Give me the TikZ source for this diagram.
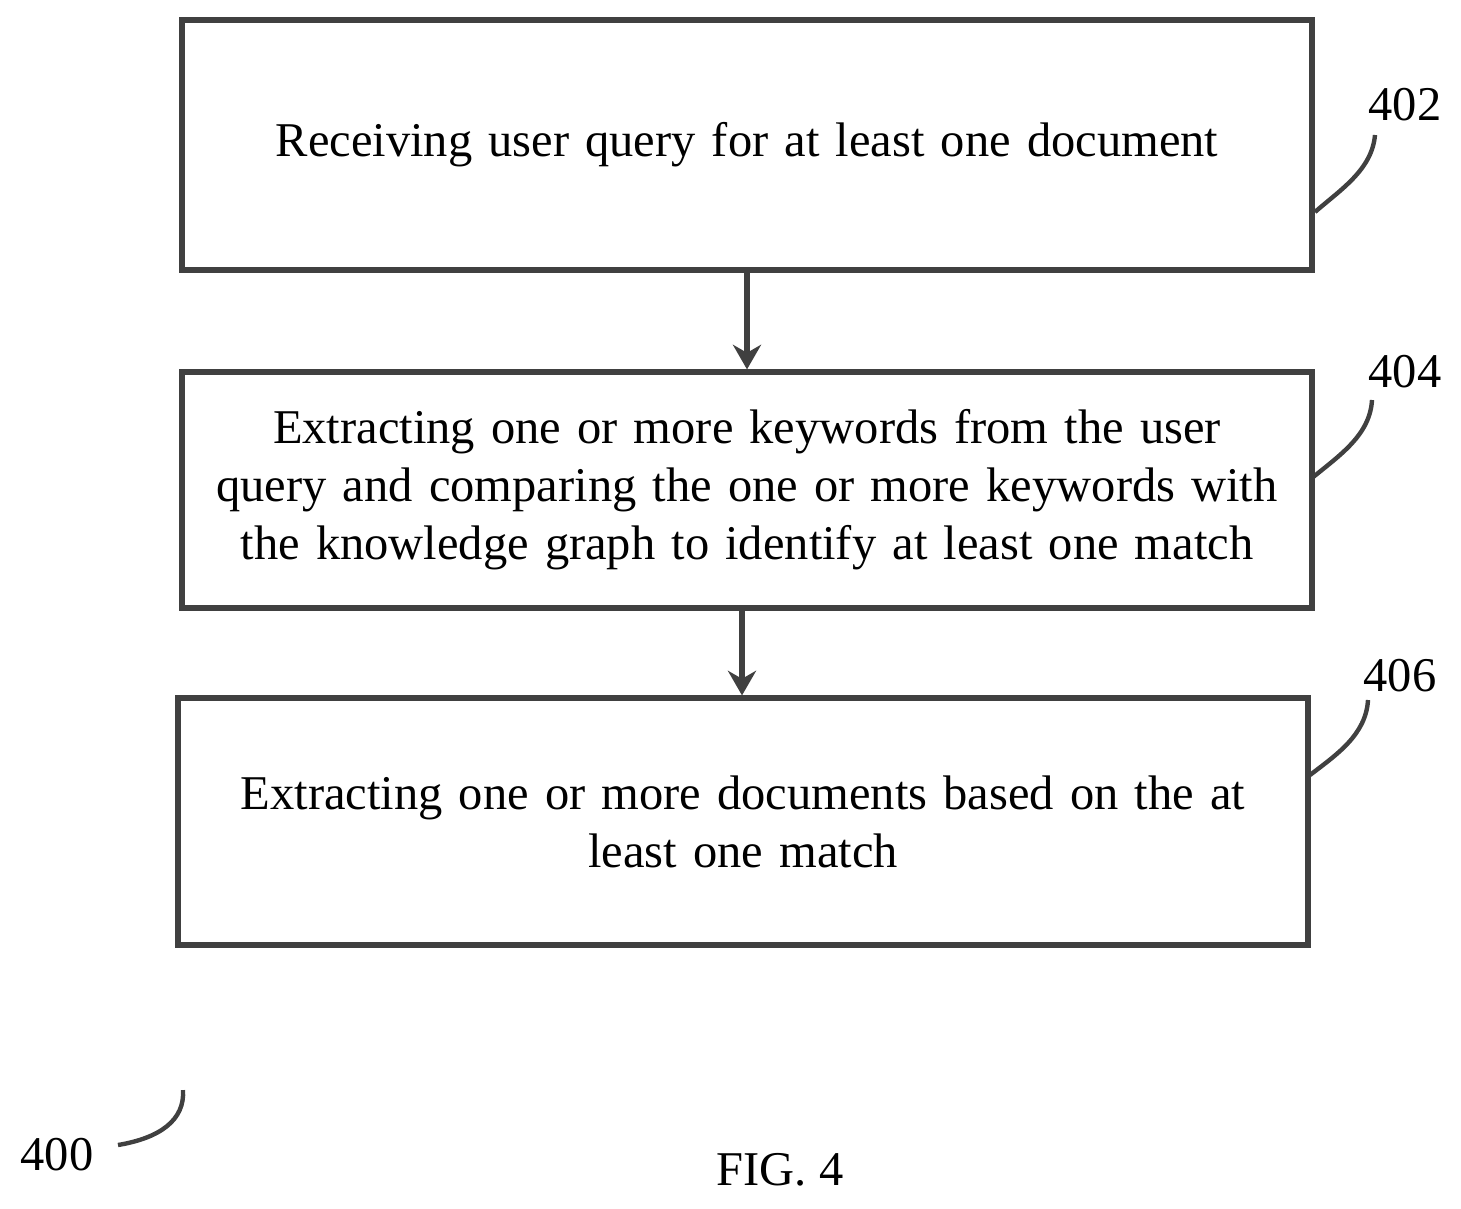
\documentclass[tikz,border=0pt]{standalone}
\usepackage{fontspec}
\setmainfont{Liberation Serif}
\usetikzlibrary{arrows.meta}
\begin{document}
\begin{tikzpicture}[x=0.02cm,y=-0.02cm,
    bnode/.style={draw=black!75,line width=3pt,minimum width=22.6cm,align=center,text width=21.8cm,font=\fontsize{27.6}{33}\selectfont},
    lnode/.style={font=\fontsize{27.6}{33}\selectfont},
    lead/.style={draw=black!75,line width=2.5pt},
    arr/.style={draw=black!75,line width=3pt,-{Stealth[length=14pt,width=16pt]}}]
    \useasboundingbox (0,0) rectangle (1461,1208);
    \node[bnode,minimum height=5cm] (r) at (747,145) {Receiving user query for at least one document};
    \node[bnode,minimum height=4.72cm] (e) at (747,490) {Extracting one or more keywords from the user\\ query and comparing the one or more keywords with\\ the knowledge graph to identify at least one match};
    \node[bnode,minimum height=4.94cm] (d) at (743,821.5) {Extracting one or more documents based on the at\\ least one match};

    \node[lnode] (l2) at (1405,105) {402};
    \node[lnode] (l4) at (1405,372) {404};
    \node[lnode] (l6) at (1400,676) {406};
    \node[lnode] (l0) at (57,1155) {400};
    \node[lnode] (f) at (780,1170) {FIG. 4};

    \draw[arr] (r.south -| 747,0) -- (e.north -| 747,0);
    \draw[arr] (e.south -| 742,0) -- (d.north -| 742,0);

    \draw[lead] (1375,135) .. controls (1372,170) and (1340,190) .. (1315,212);
    \draw[lead] (1372,400) .. controls (1370,435) and (1340,455) .. (1312,478);
    \draw[lead] (1368,700) .. controls (1366,735) and (1336,755) .. (1310,775);
    \draw[lead] (118,1145) .. controls (160,1138) and (185,1120) .. (183,1090);
\end{tikzpicture}
\end{document}
